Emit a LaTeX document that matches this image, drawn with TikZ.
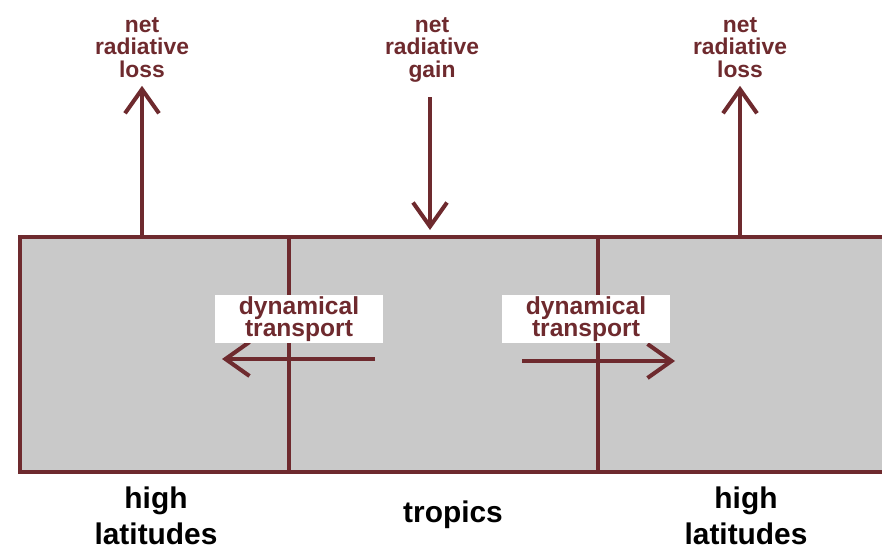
\documentclass[tikz,border=0pt]{standalone}
\usepackage{fontspec}
\setmainfont{Liberation Sans}
\usepackage{xcolor}
\usepackage{tikz}
\usetikzlibrary{arrows.meta}
\definecolor{HTMaroon}{HTML}{6E2A2E}
\definecolor{HTGrey}{HTML}{C9C9C9}

\begin{document}
\begin{tikzpicture}[x=1cm,y=1cm,
  zone/.style={fill=HTGrey,draw=HTMaroon,line width=2.2pt},
  wall/.style={draw=HTMaroon,line width=1.8pt},
  flux/.style={draw=HTMaroon,line width=2.3pt,-{Straight Barb[length=0.48cm,width=0.68cm]}},
  radlabel/.style={anchor=north,inner sep=0pt,align=center,text=HTMaroon,font=\fontsize{13}{12.8}\selectfont\bfseries},
  dynlabel/.style={fill=white,inner sep=0pt,minimum width=3.36cm,minimum height=0.96cm,align=center,text=HTMaroon,font=\fontsize{14}{12.5}\selectfont\bfseries},
  beltlabel/.style={anchor=north,inner sep=0pt,align=center,font=\fontsize{17}{21}\selectfont\bfseries}]
\path[use as bounding box] (0,0) rectangle (17.64,11.10);
\begin{scope}
\clip (0,0) rectangle (17.64,11.10);
\path[zone] (0.40,1.66) rectangle (18.20,6.36);
\end{scope}
\draw[wall] (5.78,1.66) -- (5.78,6.36);
\draw[wall] (11.96,1.66) -- (11.96,6.36);
\coordinate (outL) at (2.84,6.36);
\coordinate (inT) at (8.60,6.50);
\coordinate (outR) at (14.80,6.36);
\node[radlabel] (lossL) at (2.84,10.76) {net\\radiative\\loss};
\node[radlabel] (gainT) at (8.64,10.76) {net\\radiative\\gain};
\node[radlabel] (lossR) at (14.80,10.76) {net\\radiative\\loss};
\draw[flux] (outL) -- ([yshift=-0.16cm]lossL.south);
\draw[flux] ([yshift=-0.30cm]gainT.south -| inT) -- (inT);
\draw[flux] (outR) -- ([yshift=-0.16cm]lossR.south);
\coordinate (dynLa) at (7.50,3.92);
\coordinate (dynLb) at (4.44,3.92);
\coordinate (dynRa) at (10.44,3.88);
\coordinate (dynRb) at (13.50,3.88);
\draw[flux] (dynLa) -- (dynLb);
\draw[flux] (dynRa) -- (dynRb);
\node[dynlabel] (dynL) at (5.98,4.72) {dynamical\\transport};
\node[dynlabel] (dynR) at (11.72,4.72) {dynamical\\transport};
\node[beltlabel] (highL) at (3.12,1.38) {high\\latitudes};
\node[beltlabel] (trop) at (9.06,1.10) {tropics};
\node[beltlabel] (highR) at (14.92,1.38) {high\\latitudes};
\end{tikzpicture}
\end{document}
